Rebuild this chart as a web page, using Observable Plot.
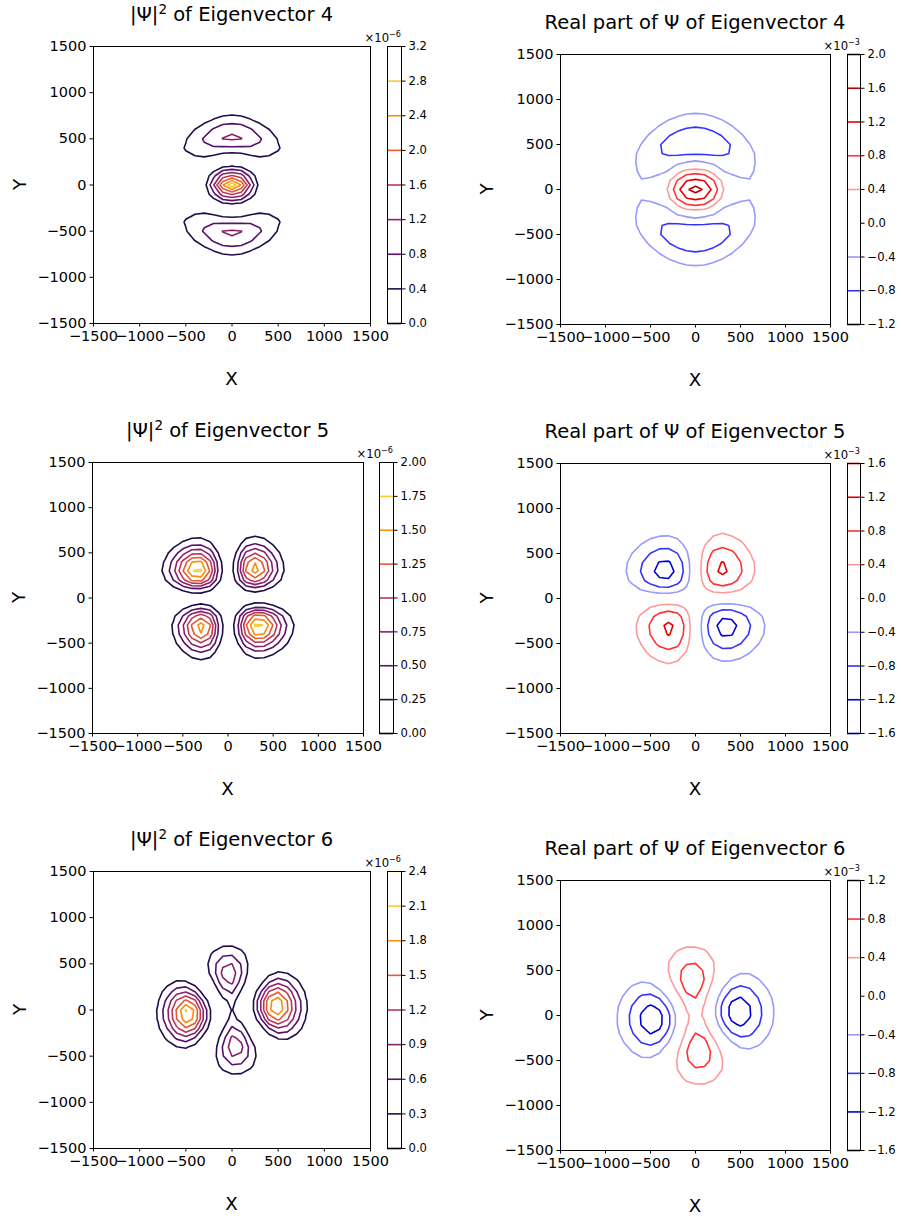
<!DOCTYPE html>
<html>
<head>
<meta charset="utf-8">
<script src="https://cdn.jsdelivr.net/npm/d3@7"></script>
<script src="https://cdn.jsdelivr.net/npm/@observablehq/plot@0.6"></script>
<style>
html, body { margin: 0; padding: 0; background: #fff; }
#fig { position: relative; width: 901px; height: 1218px; overflow: hidden; background: #fff; }
</style>
</head>
<body>
<div id="fig"></div>
<script>
// ---------- data (values in units of 1e-3) ----------
// sample positions of the grid (both x and y), rows below go from y = +900 (top) to y = -900
const gridXY = [-900,-800,-700,-600,-500,-400,-300,-200,-100,0,100,200,300,400,500,600,700,800,900];
const axisTicks = [-1500,-1000,-500,0,500,1000,1500];

// Real part of Psi, eigenvector 4
const re4 = [
[0,-0.01,-0.02,-0.04,-0.08,-0.13,-0.18,-0.23,-0.27,-0.28,-0.27,-0.23,-0.18,-0.13,-0.08,-0.04,-0.02,-0.01,0],
[0,-0.02,-0.04,-0.09,-0.16,-0.25,-0.34,-0.42,-0.48,-0.50,-0.48,-0.42,-0.34,-0.25,-0.16,-0.09,-0.04,-0.02,0],
[-0.01,-0.03,-0.08,-0.16,-0.28,-0.42,-0.55,-0.66,-0.74,-0.78,-0.74,-0.66,-0.55,-0.42,-0.28,-0.16,-0.08,-0.03,-0.01],
[-0.03,-0.07,-0.15,-0.28,-0.45,-0.64,-0.78,-0.92,-1.05,-1.07,-1.05,-0.92,-0.78,-0.64,-0.45,-0.28,-0.15,-0.07,-0.03],
[-0.05,-0.14,-0.27,-0.41,-0.61,-0.78,-0.92,-1.04,-1.10,-1.12,-1.10,-1.04,-0.92,-0.78,-0.61,-0.41,-0.27,-0.14,-0.05],
[-0.06,-0.16,-0.32,-0.50,-0.66,-0.78,-0.85,-0.86,-0.85,-0.85,-0.85,-0.86,-0.85,-0.78,-0.66,-0.50,-0.32,-0.16,-0.06],
[-0.06,-0.16,-0.33,-0.52,-0.56,-0.60,-0.62,-0.55,-0.38,-0.30,-0.38,-0.55,-0.62,-0.60,-0.56,-0.52,-0.33,-0.16,-0.06],
[-0.06,-0.15,-0.28,-0.50,-0.60,-0.55,-0.36,0.25,0.59,0.65,0.59,0.25,-0.36,-0.55,-0.60,-0.50,-0.28,-0.15,-0.06],
[-0.08,-0.18,-0.31,-0.38,-0.30,-0.08,0.32,0.82,1.18,1.28,1.18,0.82,0.32,-0.08,-0.30,-0.38,-0.31,-0.18,-0.08],
[-0.07,-0.15,-0.26,-0.32,-0.22,0.06,0.46,1.08,1.54,1.78,1.54,1.08,0.46,0.06,-0.22,-0.32,-0.26,-0.15,-0.07],
[-0.08,-0.18,-0.31,-0.38,-0.30,-0.08,0.32,0.82,1.18,1.28,1.18,0.82,0.32,-0.08,-0.30,-0.38,-0.31,-0.18,-0.08],
[-0.06,-0.15,-0.28,-0.50,-0.60,-0.55,-0.36,0.25,0.59,0.65,0.59,0.25,-0.36,-0.55,-0.60,-0.50,-0.28,-0.15,-0.06],
[-0.06,-0.16,-0.33,-0.52,-0.56,-0.60,-0.62,-0.55,-0.38,-0.30,-0.38,-0.55,-0.62,-0.60,-0.56,-0.52,-0.33,-0.16,-0.06],
[-0.06,-0.16,-0.32,-0.50,-0.66,-0.78,-0.85,-0.86,-0.85,-0.85,-0.85,-0.86,-0.85,-0.78,-0.66,-0.50,-0.32,-0.16,-0.06],
[-0.05,-0.14,-0.27,-0.41,-0.61,-0.78,-0.92,-1.04,-1.10,-1.12,-1.10,-1.04,-0.92,-0.78,-0.61,-0.41,-0.27,-0.14,-0.05],
[-0.03,-0.07,-0.15,-0.28,-0.45,-0.64,-0.78,-0.92,-1.05,-1.07,-1.05,-0.92,-0.78,-0.64,-0.45,-0.28,-0.15,-0.07,-0.03],
[-0.01,-0.03,-0.08,-0.16,-0.28,-0.42,-0.55,-0.66,-0.74,-0.78,-0.74,-0.66,-0.55,-0.42,-0.28,-0.16,-0.08,-0.03,-0.01],
[0,-0.02,-0.04,-0.09,-0.16,-0.25,-0.34,-0.42,-0.48,-0.50,-0.48,-0.42,-0.34,-0.25,-0.16,-0.09,-0.04,-0.02,0],
[0,-0.01,-0.02,-0.04,-0.08,-0.13,-0.18,-0.23,-0.27,-0.28,-0.27,-0.23,-0.18,-0.13,-0.08,-0.04,-0.02,-0.01,0]
];

// Real part of Psi, eigenvector 5
const re5 = [
[-0.01,-0.02,-0.04,-0.06,-0.08,-0.09,-0.09,-0.08,-0.04,0,0.07,0.11,0.13,0.11,0.09,0.05,0.03,0.02,0.01],
[-0.03,-0.05,-0.09,-0.13,-0.17,-0.20,-0.21,-0.17,-0.10,0,0.13,0.22,0.25,0.22,0.17,0.11,0.06,0.03,0.01],
[-0.05,-0.10,-0.16,-0.24,-0.32,-0.38,-0.39,-0.32,-0.18,0,0.24,0.39,0.45,0.39,0.30,0.19,0.11,0.05,0.02],
[-0.09,-0.16,-0.27,-0.41,-0.55,-0.65,-0.66,-0.54,-0.31,0,0.37,0.63,0.71,0.63,0.47,0.30,0.17,0.08,0.03],
[-0.13,-0.24,-0.41,-0.61,-0.81,-0.96,-0.97,-0.803,-0.46,0,0.53,0.89,0.99,0.89,0.66,0.42,0.23,0.11,0.05],
[-0.16,-0.31,-0.52,-0.77,-1.03,-1.22,-1.24,-1.03,-0.59,0,0.64,1.08,1.22,1.08,0.81,0.52,0.29,0.14,0.06],
[-0.18,-0.33,-0.56,-0.83,-1.11,-1.32,-1.34,-1.11,-0.63,0,0.67,1.13,1.27,1.13,0.85,0.54,0.30,0.14,0.06],
[-0.15,-0.29,-0.48,-0.72,-0.96,-1.14,-1.16,-0.96,-0.55,0,0.57,0.95,1.07,0.95,0.71,0.46,0.25,0.12,0.05],
[-0.09,-0.17,-0.28,-0.42,-0.56,-0.67,-0.68,-0.56,-0.32,0,0.33,0.55,0.62,0.55,0.41,0.26,0.15,0.07,0.03],
[0,0,0,0,0,0,0,0,0,0,0,0,0,0,0,0,0,0,0],
[0.03,0.07,0.15,0.26,0.41,0.55,0.62,0.55,0.33,0,-0.32,-0.56,-0.68,-0.67,-0.56,-0.42,-0.28,-0.17,-0.09],
[0.05,0.12,0.25,0.46,0.71,0.95,1.07,0.95,0.57,0,-0.55,-0.96,-1.16,-1.14,-0.96,-0.72,-0.48,-0.29,-0.15],
[0.06,0.14,0.30,0.54,0.85,1.13,1.27,1.13,0.67,0,-0.63,-1.11,-1.34,-1.32,-1.11,-0.83,-0.56,-0.33,-0.18],
[0.06,0.14,0.29,0.52,0.81,1.08,1.22,1.08,0.64,0,-0.59,-1.03,-1.24,-1.22,-1.03,-0.77,-0.52,-0.31,-0.16],
[0.05,0.11,0.23,0.42,0.66,0.89,0.99,0.89,0.53,0,-0.46,-0.803,-0.97,-0.96,-0.81,-0.61,-0.41,-0.24,-0.13],
[0.03,0.08,0.17,0.30,0.47,0.63,0.71,0.63,0.37,0,-0.31,-0.54,-0.66,-0.65,-0.55,-0.41,-0.27,-0.16,-0.09],
[0.02,0.05,0.11,0.19,0.30,0.39,0.45,0.39,0.24,0,-0.18,-0.32,-0.39,-0.38,-0.32,-0.24,-0.16,-0.10,-0.05],
[0.01,0.03,0.06,0.11,0.17,0.22,0.25,0.22,0.13,0,-0.10,-0.17,-0.21,-0.20,-0.17,-0.13,-0.09,-0.05,-0.03],
[0.01,0.02,0.03,0.05,0.09,0.11,0.13,0.11,0.07,0,-0.04,-0.08,-0.09,-0.09,-0.08,-0.06,-0.04,-0.02,-0.01]
];

// Real part of Psi, eigenvector 6
const re6 = [
[0.00,0.00,0.00,0.01,0.04,0.07,0.11,0.15,0.17,0.18,0.15,0.12,0.07,0.03,0.01,-0.01,-0.01,-0.01,0.00],
[-0.01,-0.01,0.00,0.02,0.05,0.12,0.19,0.27,0.32,0.32,0.28,0.20,0.11,0.04,0.00,-0.02,-0.03,-0.02,-0.01],
[-0.01,-0.02,-0.02,0.01,0.06,0.16,0.30,0.43,0.52,0.53,0.45,0.31,0.16,0.03,-0.04,-0.07,-0.06,-0.05,-0.03],
[-0.03,-0.05,-0.06,-0.04,0.04,0.18,0.39,0.60,0.74,0.76,0.63,0.403,0.16,-0.03,-0.14,-0.16,-0.14,-0.09,-0.05],
[-0.07,-0.11,-0.14,-0.14,-0.07,0.12,0.404,0.71,0.92,0.95,0.76,0.43,0.08,-0.19,-0.31,-0.32,-0.25,-0.17,-0.10],
[-0.12,-0.20,-0.28,-0.33,-0.27,-0.06,0.30,0.70,0.99,1.04,0.79,0.36,-0.11,-0.44,-0.58,-0.54,-0.41,-0.27,-0.15],
[-0.18,-0.31,-0.46,-0.58,-0.58,-0.37,0.04,0.53,0.90,0.98,0.69,0.17,-0.39,-0.77,-0.90,-0.81,-0.60,-0.39,-0.22],
[-0.24,-0.43,-0.66,-0.87,-0.93,-0.76,-0.33,0.24,0.69,0.81,0.51,-0.07,-0.69,-1.10,-1.21,-1.06,-0.78,-0.50,-0.28],
[-0.30,-0.53,-0.83,-1.11,-1.25,-1.12,-0.68,-0.07,0.46,0.63,0.36,-0.24,-0.89,-1.31,-1.41,-1.22,-0.90,-0.57,-0.32],
[-0.32,-0.58,-0.92,-1.24,-1.46,-1.32,-0.89,-0.25,0.33,0.56,0.33,-0.25,-0.89,-1.32,-1.43,-1.24,-0.92,-0.58,-0.32],
[-0.32,-0.57,-0.90,-1.22,-1.41,-1.31,-0.89,-0.24,0.36,0.63,0.46,-0.07,-0.68,-1.12,-1.25,-1.11,-0.83,-0.53,-0.30],
[-0.28,-0.50,-0.78,-1.06,-1.21,-1.10,-0.69,-0.07,0.51,0.81,0.69,0.24,-0.33,-0.76,-0.93,-0.87,-0.66,-0.43,-0.24],
[-0.22,-0.39,-0.60,-0.81,-0.90,-0.77,-0.39,0.17,0.69,0.98,0.90,0.53,0.04,-0.37,-0.58,-0.58,-0.46,-0.31,-0.18],
[-0.15,-0.27,-0.41,-0.54,-0.58,-0.44,-0.11,0.36,0.79,1.04,0.99,0.70,0.30,-0.06,-0.27,-0.33,-0.28,-0.20,-0.12],
[-0.10,-0.17,-0.25,-0.32,-0.31,-0.19,0.08,0.43,0.76,0.95,0.92,0.71,0.404,0.12,-0.07,-0.14,-0.14,-0.11,-0.07],
[-0.05,-0.09,-0.14,-0.16,-0.14,-0.03,0.16,0.403,0.63,0.76,0.74,0.60,0.39,0.18,0.04,-0.04,-0.06,-0.05,-0.03],
[-0.03,-0.05,-0.06,-0.07,-0.04,0.03,0.16,0.31,0.45,0.53,0.52,0.43,0.30,0.16,0.06,0.01,-0.02,-0.02,-0.01],
[-0.01,-0.02,-0.03,-0.02,0.00,0.04,0.11,0.20,0.28,0.32,0.32,0.27,0.19,0.12,0.05,0.02,0.00,-0.01,-0.01],
[0.00,-0.01,-0.01,-0.01,0.01,0.03,0.07,0.12,0.15,0.18,0.17,0.15,0.11,0.07,0.04,0.01,0.00,0.00,0.00]
];

// contour levels (= colorbar ticks)
const levels4Abs = [0,0.4,0.8,1.2,1.6,2.0,2.4,2.8,3.2];      // x1e-6
const levels4Re  = [-1.2,-0.8,-0.4,0,0.4,0.8,1.2,1.6,2.0];   // x1e-3
const levels5Abs = [0,0.25,0.5,0.75,1.0,1.25,1.5,1.75,2.0];
const levels5Re  = [-1.6,-1.2,-0.8,-0.4,0,0.4,0.8,1.2,1.6];
const levels6Abs = [0,0.3,0.6,0.9,1.2,1.5,1.8,2.1,2.4];
const levels6Re  = [-1.6,-1.2,-0.8,-0.4,0,0.4,0.8,1.2];

// ---------- layout / styling ----------
const FONT = "DejaVu Sans, sans-serif";
const panels = [
  {kind:"abs", ev:4, grid:re4, levels:levels4Abs, dec:1, exp:"\u22126", L:93,  T:46,  S:277, cbL:387, cbW:14},
  {kind:"re",  ev:4, grid:re4, levels:levels4Re,  dec:1, exp:"\u22123", L:560, T:54,  S:270, cbL:847, cbW:13},
  {kind:"abs", ev:5, grid:re5, levels:levels5Abs, dec:2, exp:"\u22126", L:92,  T:462, S:271, cbL:379, cbW:14},
  {kind:"re",  ev:5, grid:re5, levels:levels5Re,  dec:1, exp:"\u22123", L:560, T:463, S:270, cbL:847, cbW:13},
  {kind:"abs", ev:6, grid:re6, levels:levels6Abs, dec:1, exp:"\u22126", L:93,  T:871, S:277, cbL:387, cbW:14},
  {kind:"re",  ev:6, grid:re6, levels:levels6Re,  dec:1, exp:"\u22123", L:560, T:880, S:270, cbL:847, cbW:13}
];

const seismic = d3.scaleLinear().domain([0,0.25,0.5,0.75,1])
  .range(["#00004c","#0000ff","#ffffff","#ff0000","#800000"]).clamp(true);
function colorOf(p, L) {
  if (p.kind === "abs") {
    const lv = p.levels;
    return d3.interpolateInferno((L - lv[0]) / (lv[lv.length-1] - lv[0]));
  }
  return seismic((L + 2) / 4);
}
const minus = "\u2212";
const fmtInt = d => (d < 0 ? minus : "") + Math.abs(d);
const fmtDec = k => d => (d < -1e-9 ? minus : "") + Math.abs(d).toFixed(k);

const fig = document.getElementById("fig");
function place(el, left, top) {
  el.style.position = "absolute";
  el.style.left = left + "px";
  el.style.top = top + "px";
  fig.appendChild(el);
}

const n = gridXY.length;
const half = (gridXY[1] - gridXY[0]) / 2;
const bounds = {width: n, height: n,
  x1: gridXY[0] - half, x2: gridXY[n-1] + half,
  y1: gridXY[n-1] + half, y2: gridXY[0] - half};

const ML = 90, MR = 10, MT = 10, MB = 40;

for (const p of panels) {
  const flat = p.grid.flat();
  const field = p.kind === "abs" ? flat.map(v => v * v) : flat;   // |Psi|^2 = (Re Psi)^2 for these states
  const neg = field.map(v => -v);
  const marks = [];
  for (const L of p.levels) {
    if (L === 0) continue;
    marks.push(Plot.contour(L > 0 ? field : neg, {
      ...bounds, thresholds: [Math.abs(L)], stroke: colorOf(p, L), strokeWidth: 1.6, fill: "none"
    }));
  }
  marks.push(Plot.frame({stroke: "#000", strokeWidth: 1}));
  const chart = Plot.plot({
    width: ML + p.S + MR, height: MT + p.S + MB,
    marginLeft: ML, marginRight: MR, marginTop: MT, marginBottom: MB,
    x: {domain: [-1500, 1500], ticks: axisTicks, tickSize: 3.5, tickPadding: 3.5, tickFormat: fmtInt, label: null},
    y: {domain: [-1500, 1500], ticks: axisTicks, tickSize: 3.5, tickPadding: 3.5, tickFormat: fmtInt, label: null},
    style: {background: "none", overflow: "visible", color: "#000", fontFamily: FONT, fontSize: "14.5px"},
    marks
  });
  place(chart, p.L - ML, p.T - MT);

  // colorbar
  const cbMarks = p.levels.map(L => Plot.ruleY([L], {stroke: colorOf(p, L), strokeWidth: 1.6}));
  cbMarks.push(Plot.frame({stroke: "#000", strokeWidth: 1}));
  const cb = Plot.plot({
    width: 5 + p.cbW + 55, height: 10 + p.S + 10,
    marginLeft: 5, marginRight: 55, marginTop: 10, marginBottom: 10,
    y: {domain: [p.levels[0], p.levels[p.levels.length-1]], ticks: p.levels, tickFormat: fmtDec(p.dec),
        axis: "right", tickSize: 3.5, tickPadding: 3.5, label: null},
    style: {background: "none", overflow: "visible", color: "#000", fontFamily: FONT, fontSize: "11.6px"},
    marks: cbMarks
  });
  place(cb, p.cbL - 5, p.T - 10);
}

// ---------- text overlay: titles, axis labels, colorbar offsets ----------
const ov = d3.select(fig).append("svg")
  .attr("width", 901).attr("height", 1218)
  .style("position", "absolute").style("left", "0px").style("top", "0px")
  .style("overflow", "visible")
  .attr("font-family", FONT).attr("fill", "#000");

for (const p of panels) {
  const cx = p.L + p.S / 2;
  const t = ov.append("text").attr("x", cx).attr("y", p.T - 25)
    .attr("text-anchor", "middle").attr("font-size", 19.5);
  if (p.kind === "abs") {
    t.append("tspan").text("|\u03A8|");
    t.append("tspan").attr("font-size", 13.5).attr("dy", -7.5).text("2");
    t.append("tspan").attr("dy", 7.5).text(" of Eigenvector " + p.ev);
  } else {
    t.text("Real part of \u03A8 of Eigenvector " + p.ev);
  }
  ov.append("text").attr("x", cx).attr("y", p.T + p.S + 62)
    .attr("text-anchor", "middle").attr("font-size", 18.2).text("X");
  ov.append("text").attr("transform", `translate(${p.L - 74 + 6.6},${p.T + p.S / 2}) rotate(-90)`)
    .attr("text-anchor", "middle").attr("font-size", 18.2).text("Y");
  const o = ov.append("text").attr("x", p.cbL + p.cbW).attr("y", p.T - 4)
    .attr("text-anchor", "end").attr("font-size", 11.6);
  o.append("tspan").text("\u00D710");
  o.append("tspan").attr("font-size", 8.1).attr("dy", -5).text(p.exp);
}
</script>
</body>
</html>
